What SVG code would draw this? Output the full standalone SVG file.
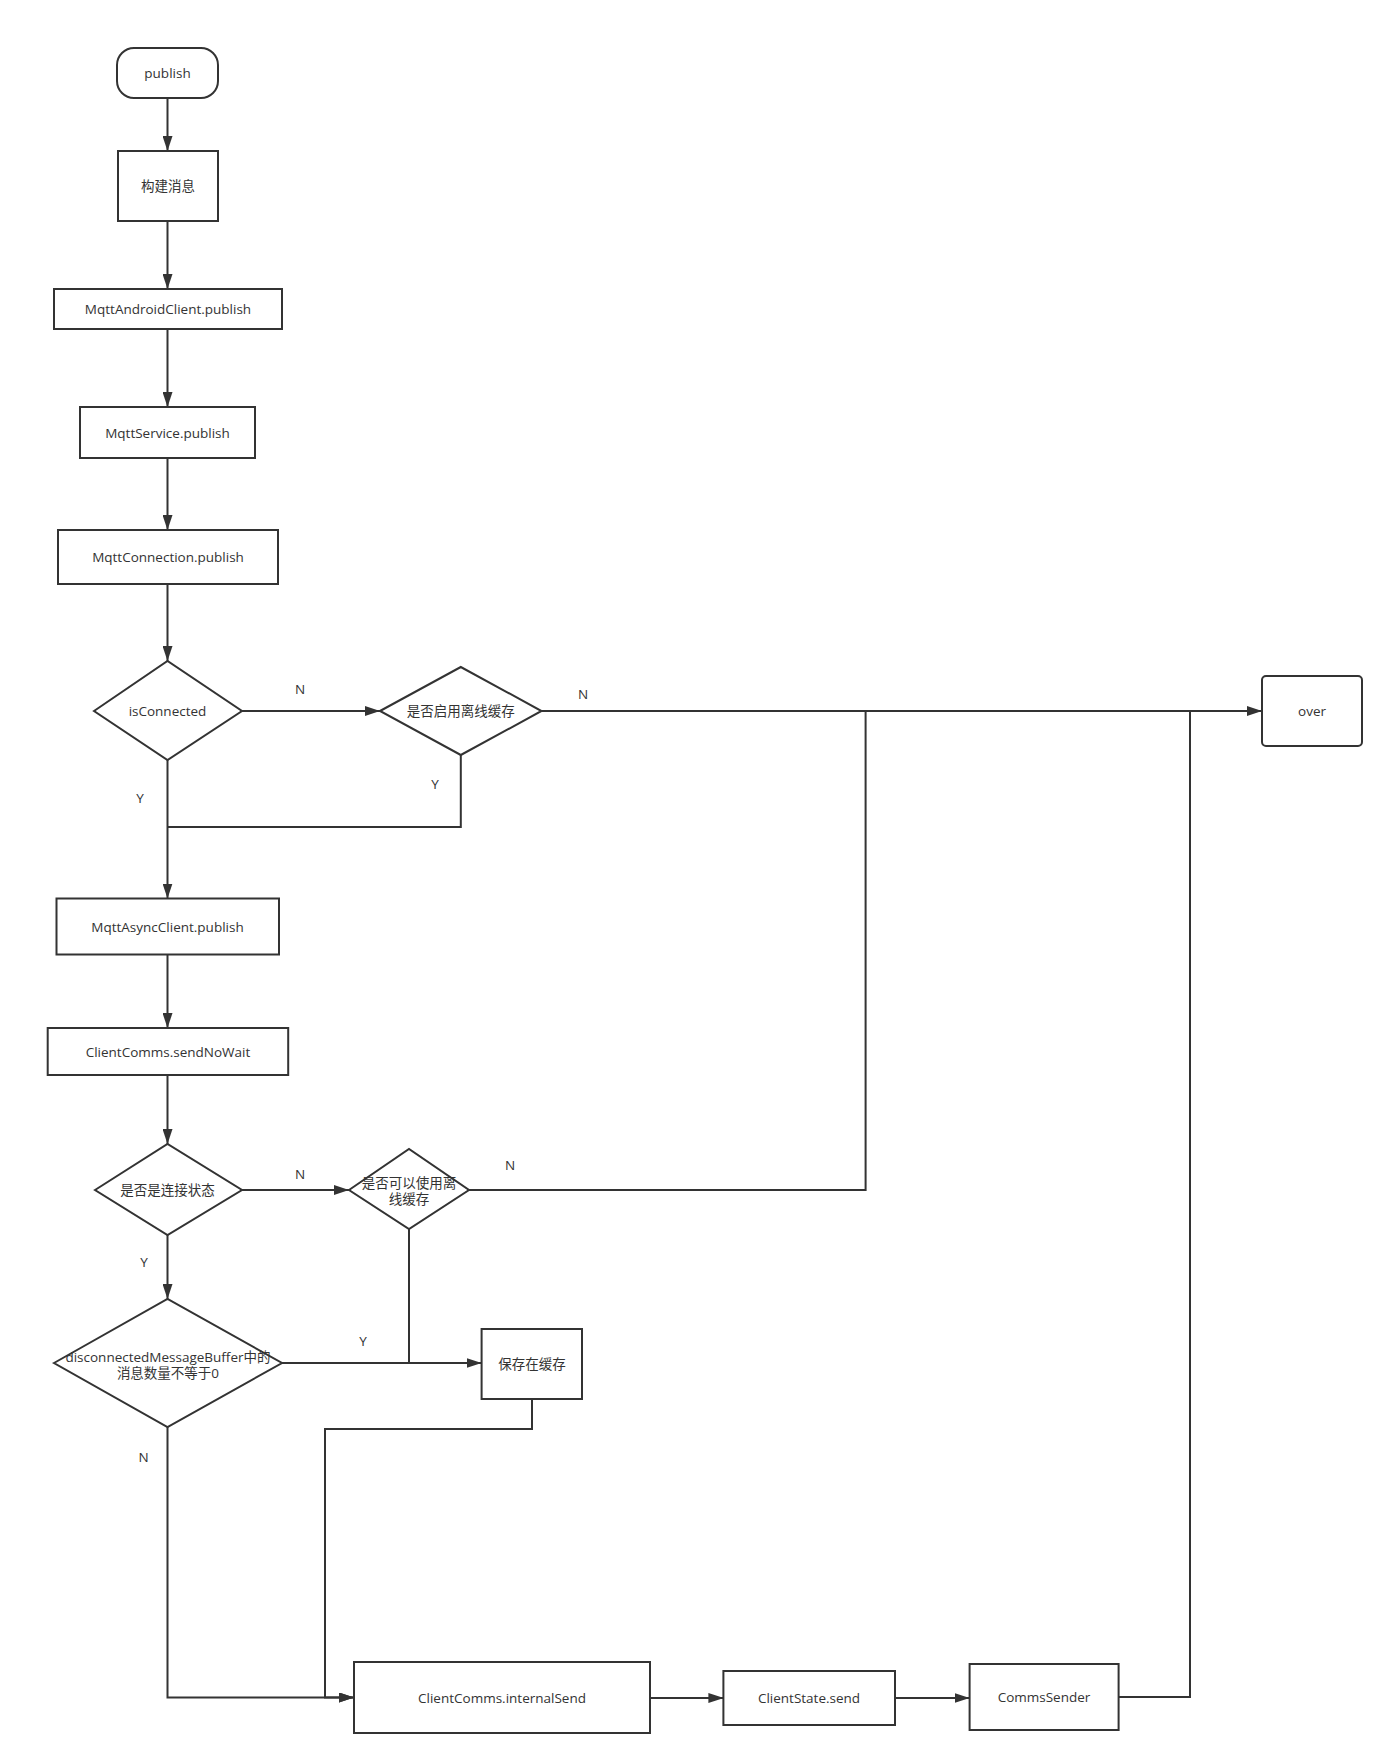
<svg xmlns="http://www.w3.org/2000/svg" width="1394" height="1764" viewBox="0 0 1394 1764">
<style>
.n{fill:#fff;stroke:#333;stroke-width:2}
.t{font-family:"Open Sans","Noto Sans CJK SC",sans-serif;font-size:13.5px;fill:#333;text-anchor:middle;dominant-baseline:central}
.c{fill:none;stroke:#333;stroke-width:2}
.l{font-family:"Open Sans","Noto Sans CJK SC",sans-serif;font-size:13.5px;fill:#333;text-anchor:middle;dominant-baseline:central}
</style>
<defs>
<marker id="a" markerUnits="userSpaceOnUse" markerWidth="15" markerHeight="10" refX="15" refY="5" orient="auto">
<path d="M0,0 L15,5 L0,10 z" fill="#333"/>
</marker>
</defs>
<rect width="1394" height="1764" fill="#fff"/>
<g id="connectors">
<path class="c" d="M167.5,98 V151" marker-end="url(#a)"/>
<path class="c" d="M167.5,221 V289" marker-end="url(#a)"/>
<path class="c" d="M167.5,329 V407" marker-end="url(#a)"/>
<path class="c" d="M167.5,458 V530" marker-end="url(#a)"/>
<path class="c" d="M167.5,584 V661" marker-end="url(#a)"/>
<path class="c" d="M242,711 H380" marker-end="url(#a)"/>
<path class="c" d="M541.5,711 H1262" marker-end="url(#a)"/>
<path class="c" d="M460.8,755 V827 H167.5"/>
<path class="c" d="M167.5,760 V898.5" marker-end="url(#a)"/>
<path class="c" d="M167.5,955 V1028" marker-end="url(#a)"/>
<path class="c" d="M167.5,1075 V1144" marker-end="url(#a)"/>
<path class="c" d="M242,1190 H349" marker-end="url(#a)"/>
<path class="c" d="M469,1190 H865.6 V711"/>
<path class="c" d="M409,1229 V1363"/>
<path class="c" d="M282,1363 H481.6" marker-end="url(#a)"/>
<path class="c" d="M167.5,1235 V1299" marker-end="url(#a)"/>
<path class="c" d="M167.5,1427 V1697.5 H354" marker-end="url(#a)"/>
<path class="c" d="M532,1399 V1429 H325 V1697.5 H354" marker-end="url(#a)"/>
<path class="c" d="M650,1698 H723.4" marker-end="url(#a)"/>
<path class="c" d="M895,1698 H969.6" marker-end="url(#a)"/>
<path class="c" d="M1118.4,1697 H1190 V711"/>
<text class="l" x="300" y="689">N</text>
<text class="l" x="583" y="694">N</text>
<text class="l" x="435" y="784">Y</text>
<text class="l" x="140" y="798">Y</text>
<text class="l" x="300" y="1174">N</text>
<text class="l" x="510" y="1165">N</text>
<text class="l" x="144" y="1262">Y</text>
<text class="l" x="363" y="1341">Y</text>
<text class="l" x="143.5" y="1457">N</text>
</g>
<g id="publish"><rect class="n" x="117" y="48" width="101" height="50" rx="17"/><text class="t" x="167.5" y="73">publish</text></g>
<g id="build"><rect class="n" x="118" y="151" width="100" height="70"/><text class="t" x="168" y="186">构建消息</text></g>
<g id="androidClient"><rect class="n" x="54" y="289" width="228" height="40"/><text class="t" x="168" y="309">MqttAndroidClient.publish</text></g>
<g id="service"><rect class="n" x="80" y="407" width="175" height="51"/><text class="t" x="167.5" y="432.5">MqttService.publish</text></g>
<g id="connection"><rect class="n" x="58" y="530" width="220" height="54"/><text class="t" x="168" y="557">MqttConnection.publish</text></g>
<g id="isConnected"><polygon class="n" points="94,711 167.5,661 242,711 167.5,760"/><text class="t" x="167.5" y="711">isConnected</text></g>
<g id="offlineEnabled"><polygon class="n" points="380,711 460.8,667 541.5,711 460.8,755"/><text class="t" x="460.8" y="711">是否启用离线缓存</text></g>
<g id="over"><rect class="n" x="1262" y="676" width="100" height="70" rx="4"/><text class="t" x="1312" y="711">over</text></g>
<g id="asyncClient"><rect class="n" x="56.5" y="898.5" width="222.5" height="56"/><text class="t" x="167.5" y="926.5">MqttAsyncClient.publish</text></g>
<g id="sendNoWait"><rect class="n" x="47.7" y="1028" width="240.5" height="47"/><text class="t" x="168" y="1051.5">ClientComms.sendNoWait</text></g>
<g id="isConnState"><polygon class="n" points="95,1190 167.5,1144 242,1190 167.5,1235"/><text class="t" x="167.5" y="1190">是否是连接状态</text></g>
<g id="canOffline"><polygon class="n" points="349,1190 409,1149 469,1190 409,1229"/><text class="t" x="409" y="1183">是否可以使用离</text><text class="t" x="409" y="1199">线缓存</text></g>
<g id="bufferCheck"><polygon class="n" points="54,1363 167.5,1299 282,1363 167.5,1427"/><text class="t" x="168" y="1357">disconnectedMessageBuffer中的</text><text class="t" x="168" y="1373">消息数量不等于0</text></g>
<g id="saveCache"><rect class="n" x="481.6" y="1329" width="100.4" height="70"/><text class="t" x="532" y="1364">保存在缓存</text></g>
<g id="internalSend"><rect class="n" x="354" y="1662" width="296" height="71"/><text class="t" x="502" y="1697.5">ClientComms.internalSend</text></g>
<g id="clientStateSend"><rect class="n" x="723.4" y="1671" width="171.6" height="54"/><text class="t" x="809" y="1698">ClientState.send</text></g>
<g id="commsSender"><rect class="n" x="969.6" y="1664" width="149" height="66"/><text class="t" x="1044" y="1697">CommsSender</text></g>
</svg>
